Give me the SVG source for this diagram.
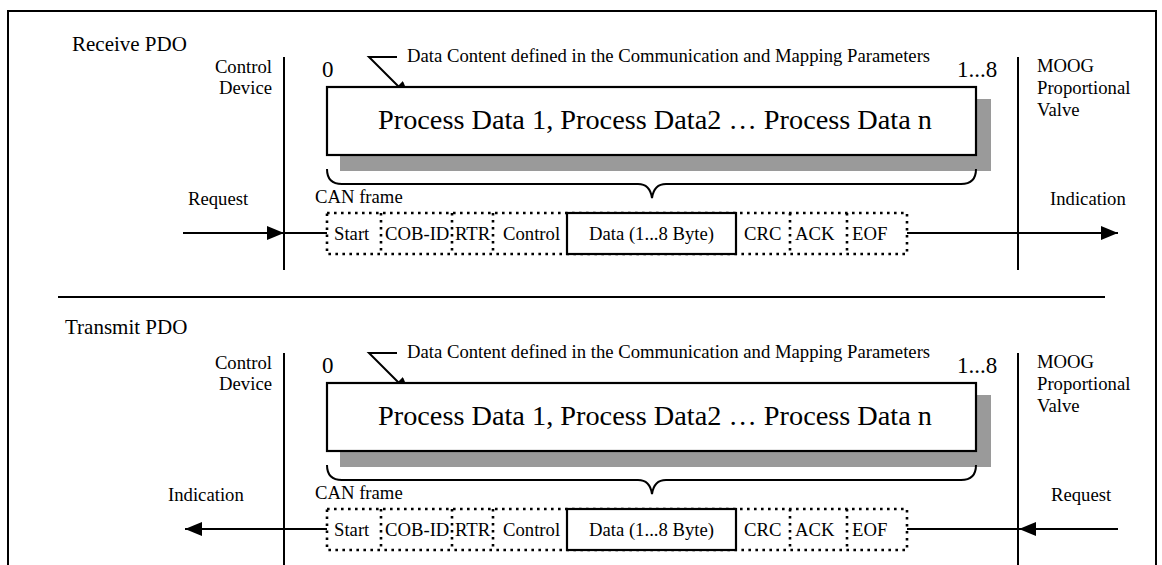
<svg xmlns="http://www.w3.org/2000/svg" width="1162" height="565" viewBox="0 0 1162 565">
  <style>
    text { font-family: "Liberation Serif", "Times New Roman", serif; fill: #000; }
    .lbl { font-size: 18.7px; }
    .ttl { font-size: 21px; }
    .big { font-size: 28.3px; }
    .idx { font-size: 23px; }
    .ln { stroke: #000; stroke-width: 2; fill: none; }
    .dot { stroke: #000; stroke-width: 2.6; fill: none; stroke-dasharray: 2.6 4.4; }
    .shadow { fill: #9a9a9a; }
    .pbox { fill: #fff; stroke: #000; stroke-width: 2.2; }
  </style>
  <defs>
    <marker id="ah" markerUnits="userSpaceOnUse" markerWidth="18" markerHeight="14" refX="17" refY="7" orient="auto">
      <path d="M0,0 L17,7 L0,14 Z" fill="#000"/>
    </marker>
    <!-- one PDO block: endpoints, data box with shadow, brace and CAN frame -->
    <g id="pdoBlock">
      <line class="ln" x1="284" y1="57" x2="284" y2="270"/>
      <line class="ln" x1="1018" y1="57" x2="1018" y2="270"/>
      <text class="lbl" x="272" y="73" text-anchor="end">Control</text>
      <text class="lbl" x="272" y="94" text-anchor="end">Device</text>
      <text class="lbl" x="1037" y="72">MOOG</text>
      <text class="lbl" x="1037" y="94">Proportional</text>
      <text class="lbl" x="1037" y="116">Valve</text>
      <text class="idx" x="322" y="77">0</text>
      <text class="idx" x="957" y="77">1...8</text>
      <text class="lbl" x="407" y="62">Data Content defined in the Communication and Mapping Parameters</text>
      <polyline class="ln" points="397,57 369,57 410,98" marker-end="url(#ah)"/>
      <rect class="shadow" x="340" y="99" width="651" height="72"/>
      <rect class="pbox" x="327" y="87" width="649" height="68"/>
      <text class="big" x="655" y="129" text-anchor="middle">Process Data 1, Process Data2 … Process Data n</text>
      <path class="ln" d="M327,169 Q327,184 342,184 H638 Q650,184 652,198 Q654,184 666,184 H961 Q976,184 976,169"/>
      <text class="lbl" x="315" y="203">CAN frame</text>
      <rect class="dot" x="327" y="213" width="580" height="41"/>
      <line class="dot" x1="381" y1="213" x2="381" y2="254"/>
      <line class="dot" x1="452" y1="213" x2="452" y2="254"/>
      <line class="dot" x1="493" y1="213" x2="493" y2="254"/>
      <line class="dot" x1="790" y1="213" x2="790" y2="254"/>
      <line class="dot" x1="847" y1="213" x2="847" y2="254"/>
      <rect class="pbox" x="567" y="213" width="169" height="41"/>
      <text class="lbl" x="334" y="240">Start</text>
      <text class="lbl" x="385" y="240">COB-ID</text>
      <text class="lbl" x="455" y="240">RTR</text>
      <text class="lbl" x="503" y="240">Control</text>
      <text class="lbl" x="651.5" y="240" text-anchor="middle">Data (1...8 Byte)</text>
      <text class="lbl" x="744" y="240">CRC</text>
      <text class="lbl" x="795" y="240">ACK</text>
      <text class="lbl" x="852" y="240">EOF</text>
    </g>
  </defs>

  <!-- outer frame, open at the bottom edge -->
  <path class="ln" d="M8,575 V11 H1156 V575" stroke-width="2.4"/>

  <!-- receive direction -->
  <g id="receivePdo">
    <text class="ttl" x="72" y="51">Receive PDO</text>
    <use href="#pdoBlock"/>
    <text class="lbl" x="188" y="205">Request</text>
    <text class="lbl" x="1050" y="205">Indication</text>
  </g>

  <line id="separator" class="ln" x1="58" y1="297" x2="1105" y2="297"/>

  <!-- transmit direction -->
  <g id="transmitPdo">
    <text class="ttl" x="65" y="334">Transmit PDO</text>
    <use href="#pdoBlock" transform="translate(0,296)"/>
    <line class="ln" x1="284" y1="560" x2="284" y2="570"/>
    <line class="ln" x1="1018" y1="560" x2="1018" y2="570"/>
    <text class="lbl" x="168" y="501">Indication</text>
    <text class="lbl" x="1051" y="501">Request</text>
  </g>

  <g id="connectors">
    <line class="ln" x1="183" y1="233" x2="284" y2="233" marker-end="url(#ah)"/>
    <line class="ln" x1="284" y1="233" x2="327" y2="233"/>
    <line class="ln" x1="907" y1="233" x2="1118" y2="233" marker-end="url(#ah)"/>
    <line class="ln" x1="327" y1="529" x2="185" y2="529" marker-end="url(#ah)"/>
    <line class="ln" x1="1118" y1="529" x2="1019" y2="529" marker-end="url(#ah)"/>
    <line class="ln" x1="1019" y1="529" x2="907" y2="529"/>
  </g>
</svg>
